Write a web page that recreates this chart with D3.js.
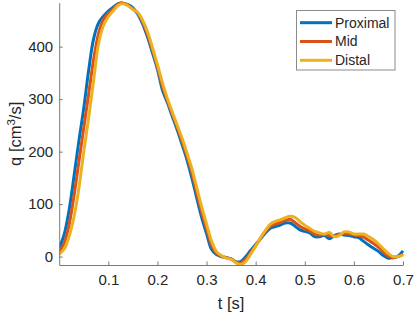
<!DOCTYPE html>
<html>
<head>
<meta charset="utf-8">
<script src="https://cdn.jsdelivr.net/npm/d3@7"></script>
<style>
html,body{margin:0;padding:0;background:#fff;}
svg{display:block;font-family:"Liberation Sans",Arial,Helvetica,sans-serif;}
</style>
</head>
<body>
<svg id="chart" width="415" height="315"></svg>
<script>
// time samples [s]
const tValues = d3.range(0, 71).map(i => +(i * 0.01).toFixed(2));

const proximal = [16,42,88,152,220,283,355,415,445,458,
  468,475,482,483,480,474,462,443,418,388,
  357,318,294,268,242,214,185,150,112,75,
  44,14,4,0,-2,-4,-10,-9,0,12,
  23,34,45,54,57,60,64,64,58,51,
  48,45,38,38,40,34,40,43,41,40,
  38,36,29,22,16,10,2,-3,-2,1,11];

const mid = [10,25,60,115,180,245,310,375,425,452,
  463,472,481,483,479,472,464,447,423,393,
  362,325,298,272,247,220,192,160,122,85,
  53,22,7,1,-2,-5,-10,-12,-5,8,
  21,35,48,58,62,65,69,71,65,58,
  53,49,43,41,42,40,39,42,44,43,
  41,40,37,31,25,18,9,1,-2,0,5];

const distal = [5,14,38,75,130,200,265,335,405,440,
  457,468,479,482,478,471,465,450,428,398,
  366,332,302,276,251,226,198,168,132,95,
  62,30,10,2,-3,-5,-12,-15,-9,5,
  20,36,50,62,67,70,74,77,75,67,
  60,54,48,45,43,46,38,40,47,47,
  43,43,43,38,32,24,15,6,0,0,3];

const seriesNames = ["Proximal", "Mid", "Distal"];
const seriesColors = ["#0072BD", "#D95319", "#EDB120"];
const xTicks = [0.1, 0.2, 0.3, 0.4, 0.5, 0.6, 0.7];
const yTicks = [0, 100, 200, 300, 400];
const xDomain = [0, 0.7];
const yDomain = [-16, 484];

const allSeries = [proximal, mid, distal];

const W = 415, H = 315;
const m = {left: 59.2, right: 12, top: 2.6, bottom: 50};
const svg = d3.select("#chart");

const x = d3.scaleLinear().domain(xDomain).range([m.left, W - m.right]);
const y = d3.scaleLinear().domain(yDomain).range([H - m.bottom, m.top]);

const textColor = "#262626";
const axisColor = "#7a7a7a";

// clip
svg.append("defs").append("clipPath").attr("id", "clip")
  .append("rect").attr("x", m.left).attr("y", m.top - 2)
  .attr("width", W - m.right - m.left + 2).attr("height", H - m.bottom - m.top + 4);

// lines
const line = d3.line()
  .x((d, i) => x(tValues[i]))
  .y(d => y(d))
  .curve(d3.curveCatmullRom.alpha(0.5));

const g = svg.append("g").attr("clip-path", "url(#clip)");
allSeries.forEach((s, k) => {
  g.append("path").datum(s)
    .attr("fill", "none")
    .attr("stroke", seriesColors[k])
    .attr("stroke-width", 3)
    .attr("stroke-linejoin", "round")
    .attr("d", line);
});

// axes
const xAxis = svg.append("g").attr("transform", `translate(0,${H - m.bottom})`)
  .call(d3.axisBottom(x).tickValues(xTicks).tickSizeInner(-3.5).tickSizeOuter(0).tickPadding(9).tickFormat(d3.format(".1f")));
const yAxis = svg.append("g").attr("transform", `translate(${m.left},0)`)
  .call(d3.axisLeft(y).tickValues(yTicks).tickSizeInner(-3.5).tickSizeOuter(0).tickPadding(6).tickFormat(d3.format("d")));

[xAxis, yAxis].forEach(a => {
  a.select(".domain").attr("stroke", axisColor).attr("stroke-width", 1);
  a.selectAll(".tick line").attr("stroke", axisColor).attr("stroke-width", 1);
  a.selectAll(".tick text").attr("fill", textColor).style("font-size", "15px")
    .style("font-family", "'Liberation Sans',Arial,sans-serif");
});
xAxis.selectAll(".tick text").attr("dy", "0.71em");

// axis labels
svg.append("text")
  .attr("x", (m.left + W - m.right) / 2)
  .attr("y", 309)
  .attr("text-anchor", "middle")
  .attr("fill", textColor)
  .style("font-size", "16.5px")
  .text("t [s]");

const yl = svg.append("text")
  .attr("transform", `translate(20.5,${(m.top + H - m.bottom) / 2}) rotate(-90)`)
  .attr("text-anchor", "middle")
  .attr("fill", textColor)
  .style("font-size", "16.5px");
yl.append("tspan").text("q [cm");
yl.append("tspan").attr("dy", -6).style("font-size", "11.5px").text("3");
yl.append("tspan").attr("dy", 6).text("/s]");

// legend
const lg = svg.append("g");
lg.append("rect").attr("x", 296.5).attr("y", 10.5).attr("width", 98.5).attr("height", 59.5)
  .attr("fill", "#fff").attr("stroke", "#8a8a8a").attr("stroke-width", 1);
seriesNames.forEach((name, k) => {
  const yy = 22.7 + k * 18.8;
  lg.append("line").attr("x1", 300).attr("x2", 332).attr("y1", yy).attr("y2", yy)
    .attr("stroke", seriesColors[k]).attr("stroke-width", 3);
  lg.append("text").attr("x", 335).attr("y", yy).attr("dy", "0.35em")
    .attr("fill", textColor).style("font-size", "14px").text(name);
});
</script>
</body>
</html>
